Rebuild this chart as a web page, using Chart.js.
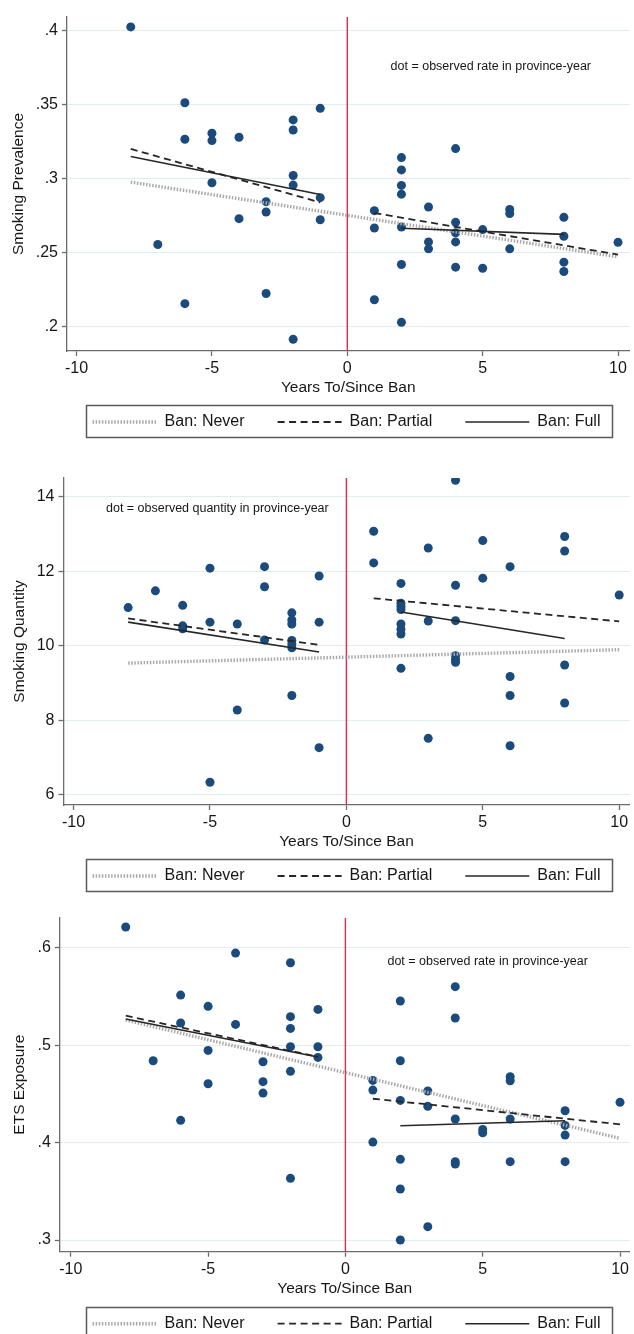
<!DOCTYPE html>
<html>
<head>
<meta charset="utf-8">
<script src="https://cdn.jsdelivr.net/npm/chart.js@4.4.1/dist/chart.umd.min.js"></script>
<style>
  html, body { margin: 0; padding: 0; background: #fff; width: 634px; height: 1334px; overflow: hidden; }
  canvas { position: absolute; left: 0; }
</style>
</head>
<body>
<canvas id="c1" width="634" height="460" style="top:0px"></canvas>
<canvas id="c2" width="634" height="462" style="top:452px"></canvas>
<canvas id="c3" width="634" height="466" style="top:895px"></canvas>
<script>
// x ticks shared by all three panels
const xTicks = [-10, -5, 0, 5, 10]
const xTickLabels = ['-10', '-5', '0', '5', '10']
const legendNames = ['Ban: Never', 'Ban: Partial', 'Ban: Full']

// fitted line x positions (pre segment = first two, post = last two)
const neverX = [-8, 10]
const partialX = [-8, -1, 1, 10]
const fullX = [-8, -1, 2, 8]

// panel 1: smoking prevalence
const prevX = [-8, -7, -6, -6, -6, -5, -5, -5, -4, -4, -3, -3, -3, -2, -2, -2, -2, -2, -1, -1, -1,
  1, 1, 1, 2, 2, 2, 2, 2, 2, 2, 3, 3, 3, 4, 4, 4, 4, 4, 5, 5, 6, 6, 6, 8, 8, 8, 8, 10]
const prevY = [0.4025, 0.2553, 0.3512, 0.3265, 0.2153, 0.3306, 0.3256, 0.2971, 0.3279, 0.2728,
  0.2843, 0.2773, 0.2222, 0.3396, 0.3328, 0.3020, 0.2955, 0.1912, 0.3474, 0.2870, 0.2721,
  0.2782, 0.2665, 0.2180, 0.3141, 0.3058, 0.2953, 0.2894, 0.2672, 0.2418, 0.2027,
  0.2807, 0.2571, 0.2524, 0.3202, 0.2703, 0.2632, 0.2571, 0.2400, 0.2654, 0.2393,
  0.2790, 0.2763, 0.2524, 0.2737, 0.2609, 0.2434, 0.2371, 0.2568]
const prevNever = [0.2975, 0.2470]
const prevPartial = [0.3200, 0.2838, 0.2766, 0.2485]
const prevFull = [0.3148, 0.2892, 0.2663, 0.2622]
const prevTicks = [0.2, 0.25, 0.3, 0.35, 0.4]
const prevTickLabels = ['.2', '.25', '.3', '.35', '.4']

// panel 2: smoking quantity
const qtyX = [-8, -7, -6, -6, -6, -5, -5, -5, -4, -4, -3, -3, -3, -2, -2, -2, -2, -2, -2, -2, -1, -1, -1,
  1, 1, 2, 2, 2, 2, 2, 2, 2, 2, 3, 3, 3, 4, 4, 4, 4, 4, 4, 5, 5, 6, 6, 6, 6, 8, 8, 8, 8, 10]
const qtyY = [11.03, 11.48, 11.09, 10.54, 10.46, 12.09, 10.64, 6.34, 10.59, 8.28,
  12.13, 11.59, 10.16, 10.89, 10.70, 10.59, 10.15, 10.05, 9.95, 8.67, 11.88, 10.64, 7.27,
  13.08, 12.23, 11.68, 11.15, 11.06, 10.98, 10.59, 10.45, 10.32, 9.40,
  12.63, 10.67, 7.52, 14.45, 11.63, 10.68, 9.74, 9.63, 9.56, 12.83, 11.82,
  12.13, 9.18, 8.67, 7.32, 12.94, 12.55, 9.49, 8.47, 11.37]
const qtyNever = [9.54, 9.90]
const qtyPartial = [10.74, 10.03, 11.28, 10.66]
const qtyFull = [10.64, 9.84, 10.91, 10.20]
const qtyTicks = [6, 8, 10, 12, 14]
const qtyTickLabels = ['6', '8', '10', '12', '14']

// panel 3: ETS exposure
const etsX = [-8, -7, -6, -6, -6, -5, -5, -5, -4, -4, -3, -3, -3, -2, -2, -2, -2, -2, -2, -1, -1, -1,
  1, 1, 1, 2, 2, 2, 2, 2, 2, 3, 3, 3, 4, 4, 4, 4, 4, 5, 5, 6, 6, 6, 6, 8, 8, 8, 8, 10]
const etsY = [0.6212, 0.4840, 0.5514, 0.5227, 0.4228, 0.5398, 0.4946, 0.4604, 0.5945, 0.5213,
  0.4830, 0.4625, 0.4508, 0.5846, 0.5292, 0.5172, 0.4984, 0.4731, 0.3633, 0.5367, 0.4984, 0.4874,
  0.4638, 0.4539, 0.4005, 0.5453, 0.4840, 0.4433, 0.3828, 0.3523, 0.3000,
  0.4529, 0.4372, 0.3137, 0.5600, 0.5278, 0.4242, 0.3804, 0.3780, 0.4135, 0.4101,
  0.4676, 0.4635, 0.4242, 0.3804, 0.4327, 0.4176, 0.4077, 0.3804, 0.4413]
const etsNever = [0.5258, 0.4043]
const etsPartial = [0.5302, 0.4881, 0.4450, 0.4187]
const etsFull = [0.5268, 0.4878, 0.4173, 0.4224]
const etsTicks = [0.3, 0.4, 0.5, 0.6]
const etsTickLabels = ['.3', '.4', '.5', '.6']

const FONT = "'Liberation Sans', Arial, Helvetica, sans-serif"
const INK = '#161616'
const AXIS = '#6c6c6c'

Chart.defaults.font.family = FONT
Chart.defaults.color = INK

function pts(xs, ys, from, to) {
  const out = []
  for (let i = from; i < to; i++) out.push({ x: xs[i], y: ys[i] })
  return out
}

function fitLine(data, style, label) {
  return Object.assign({
    data: data,
    label: label,
    showLine: true,
    pointRadius: 0,
    pointHoverRadius: 0,
    fill: false
  }, style)
}

const neverStyle = { borderColor: '#a9a9a9', borderWidth: 3.4, borderDash: [1.5, 1.6], order: 3 }
const partialStyle = { borderColor: '#262626', borderWidth: 1.8, borderDash: [7, 4.5], order: 2 }
const fullStyle = { borderColor: '#262626', borderWidth: 1.6, borderDash: [], order: 1 }

// chart.js extras: stata-like legend frame, shifted legend and the dot note
const stataBits = {
  id: 'stataBits',
  afterLayout(chart, args, opts) {
    const lg = chart.legend
    lg.left += opts.dx; lg.right += opts.dx
    lg.top += opts.dy; lg.bottom += opts.dy
  },
  afterDatasetsDraw(chart, args, opts) {
    const ctx = chart.ctx
    ctx.save()
    ctx.font = '12.5px ' + FONT
    ctx.fillStyle = INK
    ctx.textAlign = 'center'
    ctx.textBaseline = 'middle'
    ctx.fillText(opts.note, chart.scales.x.getPixelForValue(opts.noteAt[0]), chart.scales.y.getPixelForValue(opts.noteAt[1]))
    ctx.restore()
  },
  afterDraw(chart) {
    const boxes = chart.legend.legendHitBoxes
    if (!boxes || !boxes.length) return
    let l = Infinity, r = -Infinity
    boxes.forEach(b => { l = Math.min(l, b.left); r = Math.max(r, b.left + b.width) })
    const cy = boxes[0].top + 8
    const ctx = chart.ctx
    ctx.save()
    ctx.strokeStyle = '#5a5a5a'
    ctx.lineWidth = 1.5
    ctx.strokeRect(Math.round(l - 7) + 0.5, Math.round(cy - 17) + 0.5, Math.round(r - l + 18), 32)
    ctx.restore()
  }
}

function makeChart(canvasId, cfg) {
  const datasets = [
    {
      data: pts(cfg.xs, cfg.ys, 0, cfg.xs.length),
      backgroundColor: '#1b4b7c',
      borderColor: '#1b4b7c',
      borderWidth: 0,
      pointRadius: 4.5,
      order: 5
    },
    fitLine([{ x: 0, y: cfg.yRange[0] }, { x: 0, y: cfg.yRange[1] }], { borderColor: '#e02a52', borderWidth: 1.4, order: 4 }),
    fitLine(pts(neverX, cfg.never, 0, 2), neverStyle, legendNames[0]),
    fitLine(pts(partialX, cfg.partial, 0, 2), partialStyle, legendNames[1]),
    fitLine(pts(partialX, cfg.partial, 2, 4), partialStyle),
    fitLine(pts(fullX, cfg.full, 0, 2), fullStyle, legendNames[2]),
    fitLine(pts(fullX, cfg.full, 2, 4), fullStyle)
  ]

  const config = {
    type: 'scatter',
    data: { datasets: datasets },
    plugins: [stataBits],
    options: {
      responsive: false,
      animation: false,
      devicePixelRatio: 1,
      layout: { padding: { top: cfg.padTop, right: 3, bottom: cfg.padBottom, left: 0 } },
      scales: {
        x: {
          type: 'linear',
          min: cfg.xRange[0],
          max: cfg.xRange[1],
          afterBuildTicks: (s) => { s.ticks = xTicks.map(v => ({ value: v })) },
          afterFit: (s) => { s.height = 46 },
          grid: { display: true, drawOnChartArea: false, drawTicks: true, tickLength: 5, tickColor: AXIS, tickWidth: 1.3 },
          border: { display: true, color: AXIS, width: 1.3 },
          ticks: { padding: 3, color: INK, font: { size: 16 }, maxRotation: 0, callback: (v, i) => xTickLabels[i] },
          title: { display: true, text: 'Years To/Since Ban', color: INK, font: { size: 15.5 }, padding: { top: 0, bottom: 0 } }
        },
        y: {
          type: 'linear',
          min: cfg.yRange[0],
          max: cfg.yRange[1],
          afterBuildTicks: (s) => { s.ticks = cfg.yTicks.map(v => ({ value: v })) },
          afterFit: (s) => { s.width = cfg.axisWidth },
          grid: { color: '#e1ecee', lineWidth: 1, drawTicks: true, tickLength: 5, tickColor: AXIS, tickWidth: 1.3 },
          border: { display: true, color: AXIS, width: 1.3 },
          ticks: { padding: 4, color: INK, font: { size: 16 }, callback: (v, i) => cfg.yTickLabels[i] },
          title: { display: true, text: cfg.yTitle, color: INK, font: { size: 15.5 }, padding: { top: cfg.titlePad, bottom: 0 } }
        }
      },
      plugins: {
        tooltip: { enabled: false },
        stataBits: { dx: 31, dy: cfg.legendDy, note: cfg.note, noteAt: cfg.noteAt },
        legend: {
          position: 'bottom',
          labels: {
            usePointStyle: true,
            pointStyleWidth: 64,
            padding: 33,
            color: INK,
            font: { size: 16 },
            generateLabels: (chart) => chart.data.datasets
              .map((d, i) => ({ d: d, i: i }))
              .filter(o => o.d.label)
              .map(o => ({
                text: o.d.label,
                datasetIndex: o.i,
                pointStyle: 'line',
                strokeStyle: o.d.borderColor,
                fillStyle: 'rgba(0,0,0,0)',
                lineWidth: o.d.borderWidth,
                lineDash: o.d.borderDash || [],
                lineCap: 'butt',
                fontColor: INK,
                hidden: false
              }))
          }
        }
      }
    }
  }

  return new Chart(document.getElementById(canvasId), config)
}

makeChart('c1', {
  xs: prevX, ys: prevY, never: prevNever, partial: prevPartial, full: prevFull,
  yTicks: prevTicks, yTickLabels: prevTickLabels, yRange: [0.1833, 0.4092], xRange: [-10.354, 10.424],
  yTitle: 'Smoking Prevalence', note: 'dot = observed rate in province-year', noteAt: [5.3, 0.3755],
  axisWidth: 67, padTop: 17, padBottom: 4, titlePad: 9, legendDy: -16
})

makeChart('c2', {
  xs: qtyX, ys: qtyY, never: qtyNever, partial: qtyPartial, full: qtyFull,
  yTicks: qtyTicks, yTickLabels: qtyTickLabels, yRange: [5.73, 14.51], xRange: [-10.369, 10.377],
  yTitle: 'Smoking Quantity', note: 'dot = observed quantity in province-year', noteAt: [-4.73, 13.70],
  axisWidth: 63.5, padTop: 26, padBottom: 4, titlePad: 10, legendDy: -16
})

makeChart('c3', {
  xs: etsX, ys: etsY, never: etsNever, partial: etsPartial, full: etsFull,
  yTicks: etsTicks, yTickLabels: etsTickLabels, yRange: [0.288, 0.6308], xRange: [-10.40, 10.345],
  yTitle: 'ETS Exposure', note: 'dot = observed rate in province-year', noteAt: [5.18, 0.5863],
  axisWidth: 59.8, padTop: 22.7, padBottom: 4.3, titlePad: 10, legendDy: -15
})
</script>
</body>
</html>
